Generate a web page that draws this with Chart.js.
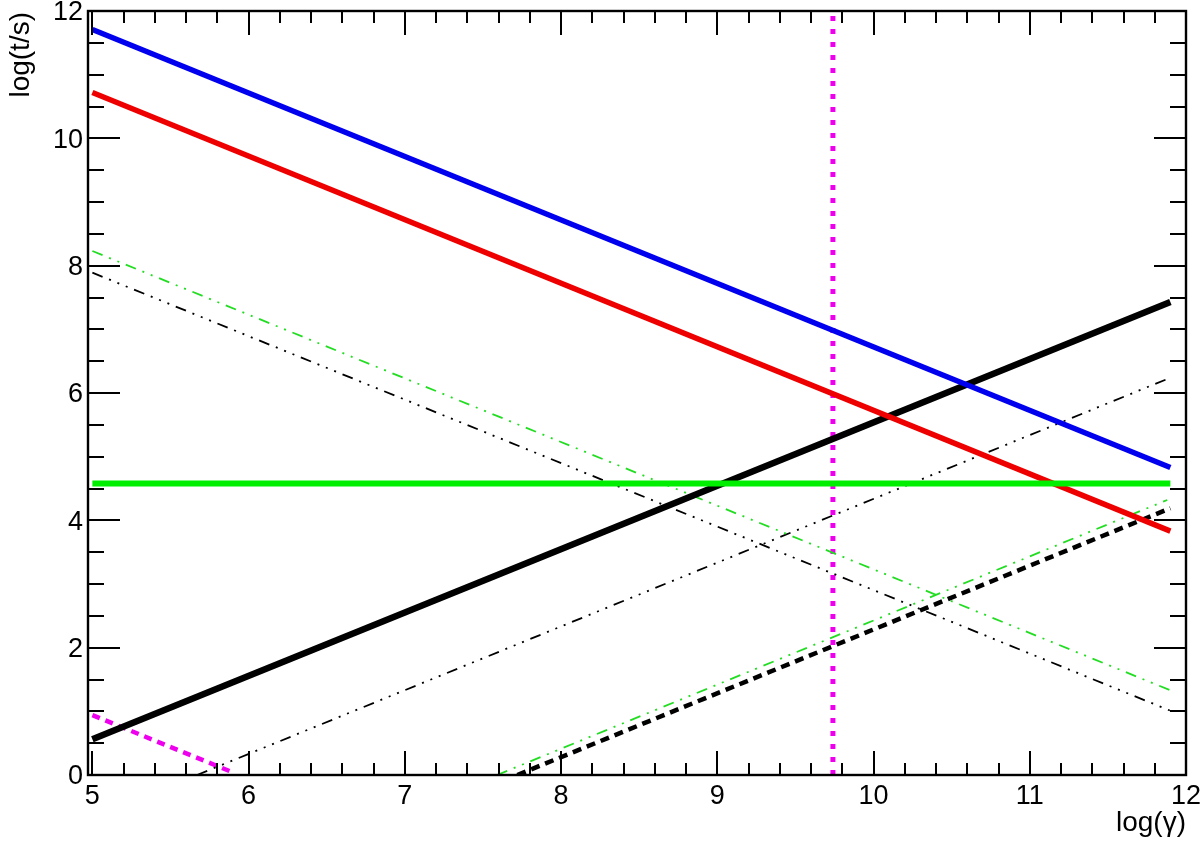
<!DOCTYPE html>
<html>
<head>
<meta charset="utf-8">
<script src="https://cdn.jsdelivr.net/npm/chart.js@4.4.1/dist/chart.umd.min.js"></script>
<style>
    html, body { margin: 0; padding: 0; background: #fff; }
    #wrap { width: 1200px; height: 841px; }
</style>
</head>
<body>
<div id="wrap"><canvas id="chart"></canvas></div>
<script>
// Axis ranges and labels
const xRange = [4.972, 12];
const yRange = [0, 12];
const xTickValues = [5, 6, 7, 8, 9, 10, 11, 12];
const xTickLabels = ['5', '6', '7', '8', '9', '10', '11', '12'];
const yTickValues = [0, 2, 4, 6, 8, 10, 12];
const yTickLabels = ['0', '2', '4', '6', '8', '10', '12'];
const xTitle = 'log(\u03b3)';
const yTitle = 'log(t/s)';

// Line endpoints (start, end)
const blueX = [5.0, 11.9];
const blueY = [11.71, 4.83];
const redX = [5.0, 11.9];
const redY = [10.72, 3.83];
const blackX = [5.0, 11.9];
const blackY = [0.56, 7.43];
const greenX = [5.0, 11.9];
const greenY = [4.58, 4.58];
const magentaVX = [9.74, 9.74];
const magentaVY = [0, 12];
const magentaDX = [5.0, 5.9];
const magentaDY = [0.94, 0.04];
const greenDownX = [5.0, 11.9];
const greenDownY = [8.23, 1.33];
const blackDownX = [5.0, 11.9];
const blackDownY = [7.89, 1.01];
const blackUpX = [5.67, 11.9];
const blackUpY = [0, 6.24];
const greenUpX = [7.59, 11.88];
const greenUpY = [0, 4.32];
const blackDashX = [7.72, 11.9];
const blackDashY = [0, 4.19];

const FONT = "'Liberation Sans', Arial, Helvetica, sans-serif";

/**
 * Build a scatter dataset from x/y arrays
 */
function line(xs, ys, color, width, dash) {
    return {
        data: xs.map((x, i) => ({ x: x, y: ys[i] })),
        showLine: true,
        borderColor: color,
        backgroundColor: color,
        borderWidth: width,
        borderDash: dash || [],
        pointRadius: 0,
        borderCapStyle: 'butt',
        tension: 0
    };
}

const dashDot3 = [11, 7, 2, 7, 2, 7, 2, 7];
const dashDot2 = [11, 7, 2, 7, 2, 7];

// ROOT-style frame, inner ticks and labels
const framePlugin = {
    id: 'frame',
    afterDraw(chart) {
        const ctx = chart.ctx;
        const a = chart.chartArea;
        const xs = chart.scales.x;
        const ys = chart.scales.y;
        ctx.save();
        ctx.strokeStyle = '#000';
        ctx.lineWidth = 2.4;
        ctx.strokeRect(a.left, a.top, a.right - a.left, a.bottom - a.top);

        ctx.lineWidth = 2;
        ctx.beginPath();
        // x ticks (bottom and top)
        for (let i = 0; i <= 35; i++) {
            const v = 5 + i * 0.2;
            const px = Math.round(xs.getPixelForValue(v));
            const len = (i % 5 === 0) ? 24 : 12;
            ctx.moveTo(px, a.bottom); ctx.lineTo(px, a.bottom - len);
            ctx.moveTo(px, a.top); ctx.lineTo(px, a.top + len);
        }
        // y ticks (left and right)
        for (let i = 0; i <= 24; i++) {
            const v = i * 0.5;
            const py = Math.round(ys.getPixelForValue(v));
            const len = (i % 4 === 0) ? 32 : 16;
            ctx.moveTo(a.left, py); ctx.lineTo(a.left + len, py);
            ctx.moveTo(a.right, py); ctx.lineTo(a.right - len, py);
        }
        ctx.stroke();

        ctx.fillStyle = '#000';
        ctx.font = '27px ' + FONT;
        ctx.textAlign = 'center';
        ctx.textBaseline = 'alphabetic';
        xTickValues.forEach((v, i) => {
            ctx.fillText(xTickLabels[i], xs.getPixelForValue(v), 804);
        });
        ctx.textAlign = 'right';
        ctx.textBaseline = 'middle';
        yTickValues.forEach((v, i) => {
            ctx.fillText(yTickLabels[i], 83, ys.getPixelForValue(v) + 2);
        });

        ctx.font = '28px ' + FONT;
        ctx.textAlign = 'right';
        ctx.textBaseline = 'alphabetic';
        ctx.fillText(xTitle, a.right, 831);

        ctx.translate(29, 12);
        ctx.rotate(-Math.PI / 2);
        ctx.textAlign = 'right';
        ctx.fillText(yTitle, 0, 0);
        ctx.restore();
    }
};

new Chart(document.getElementById('chart'), {
    type: 'scatter',
    data: {
        datasets: [
            line(greenX, greenY, '#00ee00', 6),
            line(blueX, blueY, '#0000ee', 5.5),
            line(redX, redY, '#ee0000', 5.5),
            line(blackX, blackY, '#000000', 6.5),
            line(greenDownX, greenDownY, '#22dd22', 1.8, dashDot2),
            line(blackDownX, blackDownY, '#000000', 1.8, dashDot3),
            line(blackUpX, blackUpY, '#000000', 1.8, dashDot3),
            line(greenUpX, greenUpY, '#22dd22', 1.8, dashDot2),
            line(blackDashX, blackDashY, '#000000', 4.5, [9, 6]),
            line(magentaDX, magentaDY, '#ee00ee', 4.5, [8, 6]),
            line(magentaVX, magentaVY, '#ee00ee', 5, [5, 8])
        ]
    },
    options: {
        responsive: true,
        maintainAspectRatio: false,
        animation: false,
        layout: { padding: { left: 88, top: 11, right: 14, bottom: 66 } },
        scales: {
            x: { type: 'linear', min: xRange[0], max: xRange[1], display: false },
            y: { type: 'linear', min: yRange[0], max: yRange[1], display: false }
        },
        plugins: {
            legend: { display: false },
            tooltip: { enabled: false }
        }
    },
    plugins: [framePlugin]
});
</script>
</body>
</html>
